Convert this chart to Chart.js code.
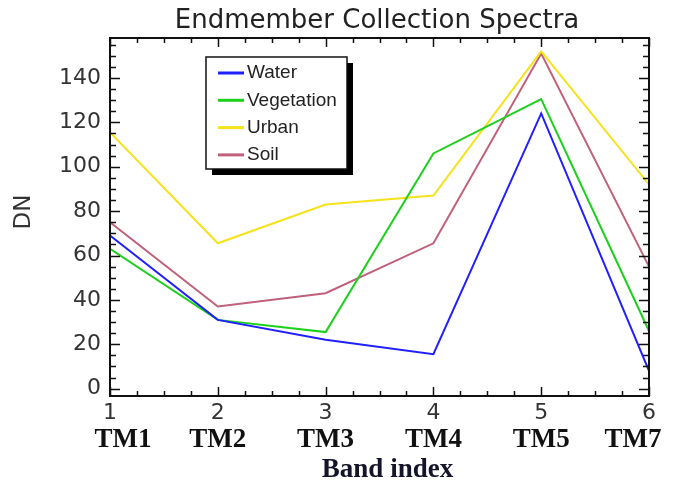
<!DOCTYPE html>
<html>
<head>
<meta charset="utf-8">
<script src="https://cdn.jsdelivr.net/npm/chart.js@4/dist/chart.umd.min.js"></script>
<style>
  html, body { margin: 0; padding: 0; background: #fff; }
</style>
</head>
<body>
<canvas id="espectros" width="673" height="483"></canvas>
<script>
// Datos (DN por banda)
const bandas = [1, 2, 3, 4, 5, 6];
const nombresBanda = ['TM1', 'TM2', 'TM3', 'TM4', 'TM5', 'TM7'];
const ticksY = [0, 20, 40, 60, 80, 100, 120, 140];
const water = [69, 31, 22, 15.5, 124, 8];
const vegetation = [63, 31, 25.5, 106, 130.5, 26];
const urban = [115.5, 65.5, 83, 87, 152, 92];
const soil = [75, 37, 43, 65.5, 151, 55];

function puntos(serie) {
    return bandas.map((b, i) => ({ x: b, y: serie[i] }));
}

// Plugin que dibuja marco, ticks hacia dentro, textos y leyenda (estilo IDL)
const marcoIDL = {
    id: 'marcoIDL',
    afterDraw(chart) {
        const { ctx, chartArea: { left, right, top, bottom }, scales: { x, y } } = chart;
        ctx.save();

        // marco
        ctx.strokeStyle = '#111';
        ctx.lineWidth = 2;
        ctx.strokeRect(left, top, right - left, bottom - top);

        // ticks eje Y (mayores cada 20, menores cada 5)
        ctx.lineWidth = 1.5;
        ctx.beginPath();
        for (let v = 0; v <= 155; v += 5) {
            const py = Math.round(y.getPixelForValue(v)) + 0.5;
            const len = v % 20 === 0 ? 10 : 6;
            ctx.moveTo(left, py); ctx.lineTo(left + len, py);
            ctx.moveTo(right, py); ctx.lineTo(right - len, py);
        }
        // ticks eje X (mayores cada 1, menores cada 0.25)
        for (let i = 0; i <= 20; i++) {
            const v = 1 + i * 0.25;
            const px = Math.round(x.getPixelForValue(v)) + 0.5;
            const len = i % 4 === 0 ? 9 : 5;
            ctx.moveTo(px, bottom); ctx.lineTo(px, bottom - len);
            ctx.moveTo(px, top); ctx.lineTo(px, top + len);
        }
        ctx.stroke();

        // etiquetas eje Y
        ctx.fillStyle = '#333';
        ctx.font = '22px "DejaVu Sans"';
        ctx.textAlign = 'right';
        ctx.textBaseline = 'middle';
        ticksY.forEach(v => ctx.fillText(String(v), left - 9, y.getPixelForValue(v)));

        // etiquetas eje X: numero + nombre de banda
        ctx.textAlign = 'center';
        bandas.forEach((b, i) => {
            const px = x.getPixelForValue(b);
            ctx.fillStyle = '#333';
            ctx.font = '22px "DejaVu Sans"';
            ctx.fillText(String(b), px, bottom + 17);
            let dx = 0;
            if (i === 0) dx = 13;
            if (i === bandas.length - 1) dx = -16;
            ctx.fillStyle = '#111';
            ctx.font = 'bold 27px "Liberation Serif"';
            ctx.fillText(nombresBanda[i], px + dx, bottom + 44);
        });

        // titulo eje X
        ctx.fillStyle = '#14142a';
        ctx.font = 'bold 27px "Liberation Serif"';
        ctx.fillText('Band index', (left + right) / 2 + 8, bottom + 74);

        // titulo eje Y
        ctx.save();
        ctx.translate(24, 212);
        ctx.rotate(-Math.PI / 2);
        ctx.fillStyle = '#333';
        ctx.font = '23px "DejaVu Sans"';
        ctx.fillText('DN', 0, 0);
        ctx.restore();

        // titulo
        ctx.fillStyle = '#222';
        ctx.font = '26px "DejaVu Sans"';
        ctx.fillText('Endmember Collection Spectra', 377, 21);

        // leyenda con sombra
        const lx = 206, ly = 57, lw = 141, lh = 112;
        ctx.fillStyle = '#000';
        ctx.fillRect(lx + 6, ly + 6, lw, lh);
        ctx.fillStyle = '#fff';
        ctx.fillRect(lx, ly, lw, lh);
        ctx.strokeStyle = '#111';
        ctx.lineWidth = 1.5;
        ctx.strokeRect(lx, ly, lw, lh);
        ctx.textAlign = 'left';
        chart.data.datasets.forEach((ds, i) => {
            const yy = ly + 16 + i * 27.3;
            ctx.strokeStyle = ds.borderColor;
            ctx.lineWidth = 3;
            ctx.beginPath();
            ctx.moveTo(lx + 12, yy); ctx.lineTo(lx + 38, yy);
            ctx.stroke();
            ctx.fillStyle = '#222';
            ctx.font = '19px "Liberation Sans"';
            ctx.fillText(ds.label, lx + 41, yy);
        });

        ctx.restore();
    }
};

const ctx = document.getElementById('espectros').getContext('2d');
const grafico = new Chart(ctx, {
    type: 'line',
    data: {
        datasets: [
            { label: 'Water', data: puntos(water), borderColor: '#1f1fff' },
            { label: 'Vegetation', data: puntos(vegetation), borderColor: '#1ed01e' },
            { label: 'Urban', data: puntos(urban), borderColor: '#f5e21a' },
            { label: 'Soil', data: puntos(soil), borderColor: '#c0607a' }
        ]
    },
    options: {
        responsive: false,
        animation: false,
        layout: { padding: { left: 110, top: 38, right: 24, bottom: 87 } },
        elements: {
            line: { borderWidth: 2, tension: 0 },
            point: { radius: 0 }
        },
        plugins: {
            legend: { display: false },
            tooltip: { enabled: false },
            title: { display: false }
        },
        scales: {
            x: { type: 'linear', min: 1, max: 6, display: false },
            y: { type: 'linear', min: -3.3, max: 158, display: false }
        }
    },
    plugins: [marcoIDL]
});
</script>
</body>
</html>
